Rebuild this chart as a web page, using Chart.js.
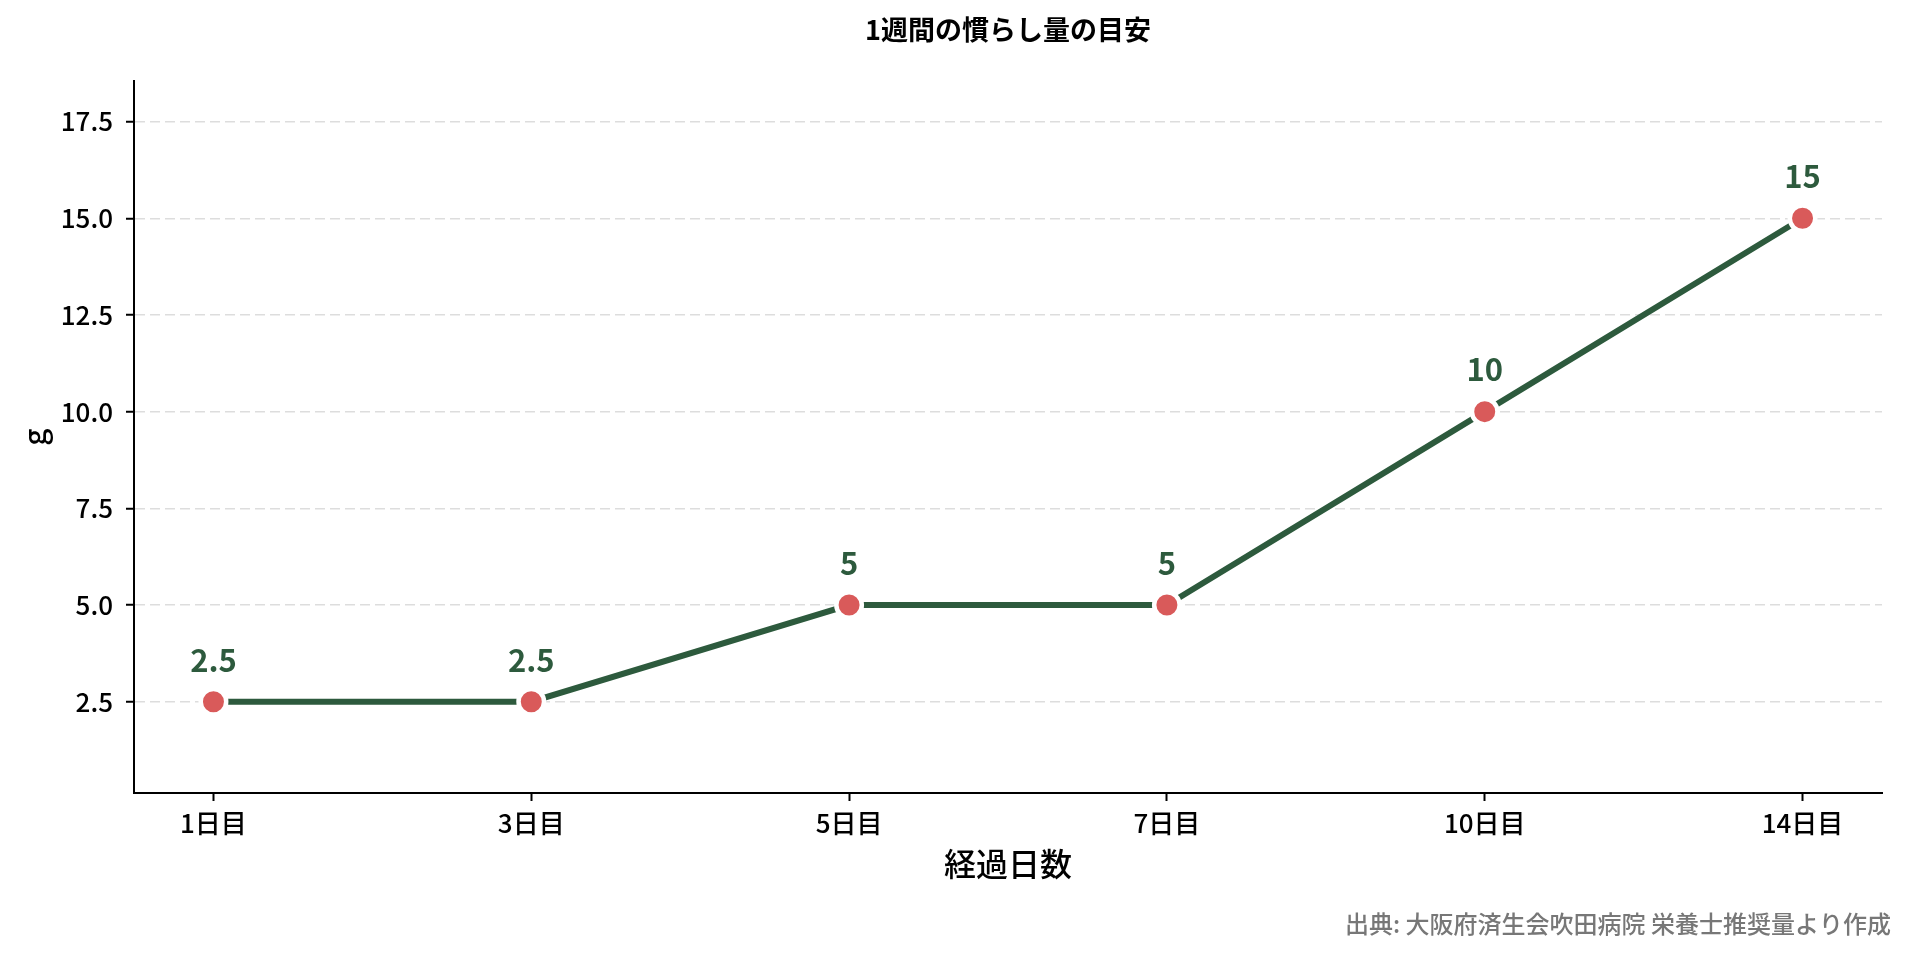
<!DOCTYPE html>
<html lang="ja">
<head>
<meta charset="utf-8">
<title>1週間の慣らし量の目安</title>
<script src="https://cdn.jsdelivr.net/npm/chart.js@4.4.1/dist/chart.umd.min.js"></script>
<style>
  html, body { margin: 0; padding: 0; background: #fff; }
  #wrap { width: 1910px; height: 959px; }
</style>
</head>
<body>
<div id="wrap"><canvas id="chart" width="1910" height="959"></canvas></div>
<script>
// data
const dayLabels = ["1日目", "3日目", "5日目", "7日目", "10日目", "14日目"];
const grams = [2.5, 2.5, 5, 5, 10, 15];
const yTickValues = [2.5, 5, 7.5, 10, 12.5, 15, 17.5];

const FONT = '"Noto Sans CJK JP", "Noto Sans", sans-serif';
const GREEN = "#2d5a3d";
const RED = "#d95a5a";

const fmtValue = v => (Number.isInteger(v) ? String(v) : v.toFixed(1));

// title centred over the plot area (not the whole canvas)
const plotTitle = {
    id: "plotTitle",
    afterDraw(chart) {
        const ctx = chart.ctx;
        const area = chart.chartArea;
        ctx.save();
        ctx.font = "bold 27px " + FONT;
        ctx.fillStyle = "#000";
        ctx.textAlign = "center";
        ctx.textBaseline = "middle";
        ctx.fillText("1週間の慣らし量の目安", (area.left + area.right) / 2, 30);
        ctx.restore();
    }
};

// value labels above each point
const valueLabels = {
    id: "valueLabels",
    afterDatasetsDraw(chart) {
        const ctx = chart.ctx;
        const meta = chart.getDatasetMeta(0);
        ctx.save();
        ctx.font = "bold 31px " + FONT;
        ctx.fillStyle = GREEN;
        ctx.textAlign = "center";
        ctx.textBaseline = "middle";
        meta.data.forEach((pt, i) => {
            ctx.fillText(fmtValue(grams[i]), pt.x, pt.y - 42);
        });
        ctx.restore();
    }
};

// source note, bottom right
const sourceNote = {
    id: "sourceNote",
    afterDraw(chart) {
        const ctx = chart.ctx;
        ctx.save();
        ctx.font = "500 24px " + FONT;
        ctx.fillStyle = "#777777";
        ctx.textAlign = "right";
        ctx.textBaseline = "middle";
        ctx.fillText("出典: 大阪府済生会吹田病院 栄養士推奨量より作成", 1891, 924);
        ctx.restore();
    }
};

new Chart(document.getElementById("chart"), {
    type: "line",
    data: {
        datasets: [{
            label: "g",
            data: grams.map((v, i) => ({ x: i, y: v })),
            borderColor: GREEN,
            borderWidth: 6,
            tension: 0,
            fill: false,
            pointRadius: 12.75,
            pointHoverRadius: 12.75,
            pointBackgroundColor: RED,
            pointBorderColor: "#ffffff",
            pointBorderWidth: 4.5
        }]
    },
    options: {
        responsive: false,
        animation: false,
        events: [],
        layout: { padding: { left: 0, right: 28, top: 81, bottom: 0 } },
        plugins: {
            legend: { display: false },
            tooltip: { enabled: false },
            title: { display: false }
        },
        scales: {
            x: {
                type: "linear",
                min: -0.25,
                max: 5.25,
                afterBuildTicks: s => { s.ticks = dayLabels.map((_, i) => ({ value: i })); },
                afterFit: s => { s.height = 166; },
                ticks: {
                    color: "#000",
                    font: { family: FONT, size: 26, weight: 500 },
                    padding: 7,
                    maxRotation: 0,
                    autoSkip: false,
                    callback: v => dayLabels[v]
                },
                grid: {
                    drawOnChartArea: false,
                    drawTicks: true,
                    tickLength: 8,
                    tickColor: "#000",
                    tickWidth: 2
                },
                border: { display: true, color: "#000", width: 2 },
                title: {
                    display: true,
                    text: "経過日数",
                    color: "#000",
                    font: { family: FONT, size: 32, weight: 500, lineHeight: 1.2 },
                    padding: { top: 0, bottom: 76 }
                }
            },
            y: {
                type: "linear",
                min: 0.14,
                max: 18.55,
                afterBuildTicks: s => { s.ticks = yTickValues.map(v => ({ value: v })); },
                afterFit: s => { s.width = 134; },
                ticks: {
                    color: "#000",
                    font: { family: FONT, size: 26, weight: 500 },
                    padding: 13,
                    callback: v => v.toFixed(1)
                },
                grid: {
                    color: "#dddddd",
                    lineWidth: 1.5,
                    drawTicks: true,
                    tickLength: 8,
                    tickColor: "#000",
                    tickWidth: 2,
                    tickBorderDash: []
                },
                border: { display: true, color: "#000", width: 2, dash: [10, 5] },
                title: {
                    display: true,
                    text: "g",
                    color: "#000",
                    font: { family: FONT, size: 30, weight: 500, lineHeight: 1.2 },
                    padding: { top: 17, bottom: 0 }
                }
            }
        }
    },
    plugins: [plotTitle, valueLabels, sourceNote]
});
</script>
</body>
</html>
